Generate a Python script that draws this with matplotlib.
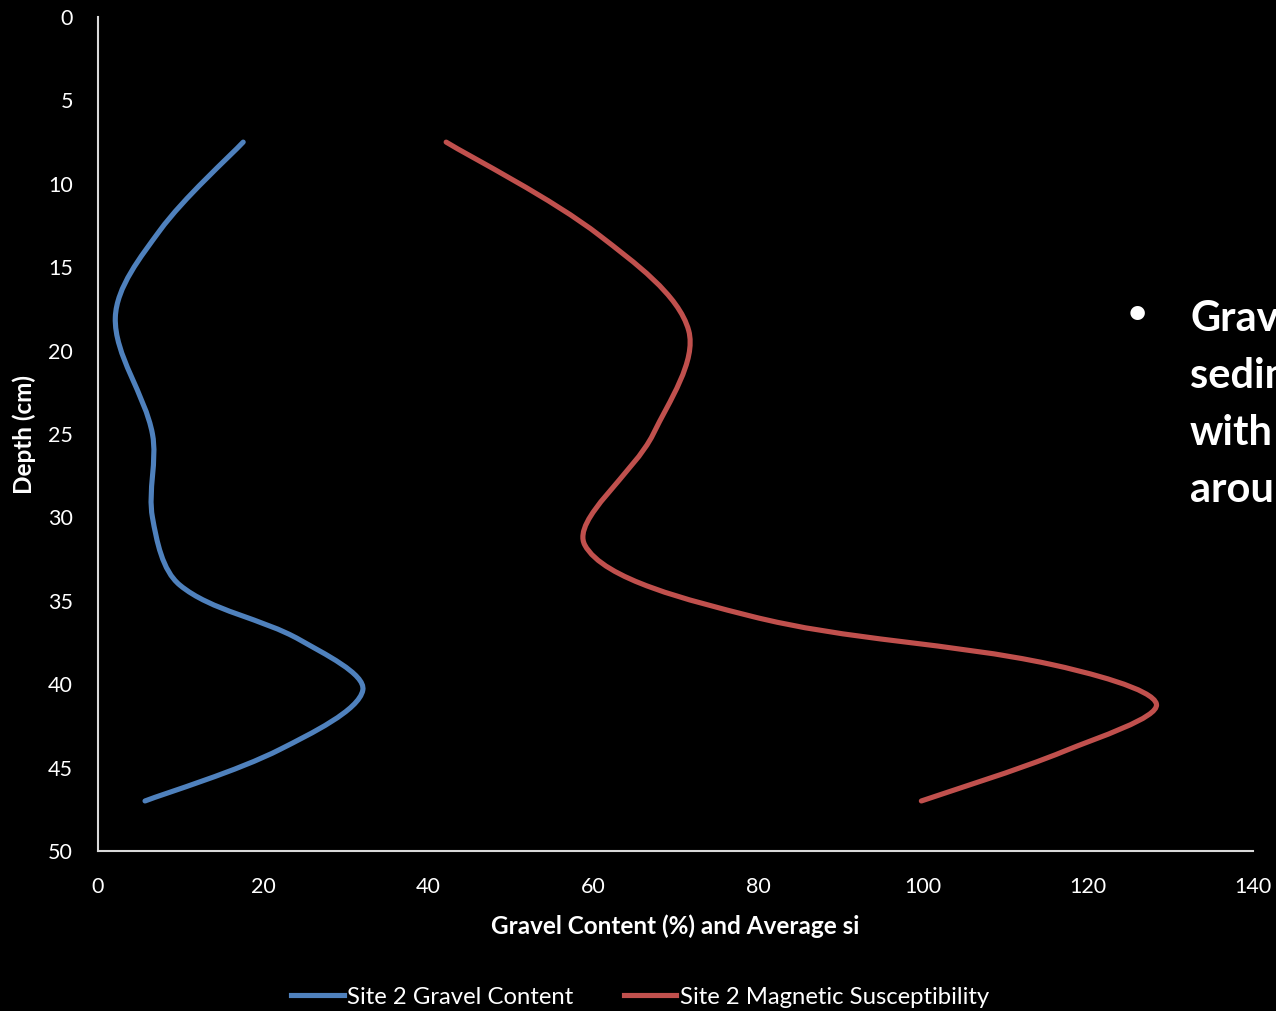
import numpy as np
import matplotlib
matplotlib.use("Agg")
import matplotlib.pyplot as plt
from matplotlib.path import Path
from matplotlib.patches import PathPatch
from matplotlib.lines import Line2D

plt.rcParams['font.family'] = ['Lato', 'DejaVu Sans']

# Site 2 gravel content (%) against depth (cm)
gravel_depth = [7.5, 12.8, 18.0, 25.0, 30.0, 34.05, 37.35, 40.35, 43.9, 47.0]
gravel = [17.6, 7.5, 2.1, 6.6, 6.6, 9.9, 24.5, 32.1, 22.1, 5.7]

# Site 2 average magnetic susceptibility (si) against depth (cm)
mag_depth = [7.5, 13.1, 18.8, 25.0, 31.65, 35.9, 38.8, 41.2, 44.0, 47.0]
mag_sus = [42.2, 60.8, 71.6, 67.3, 59.0, 79.0, 115.4, 128.3, 117.2, 99.8]

x_ticks = [0, 20, 40, 60, 80, 100, 120, 140]
y_ticks = [0, 5, 10, 15, 20, 25, 30, 35, 40, 45, 50]

legend_labels = ['Site 2 Gravel Content', 'Site 2 Magnetic Susceptibility']
side_text = ['Gravel', 'sediment', 'with', 'around']

BLUE = '#4F81BD'
RED = '#C0504D'
FG = '#FFFFFF'
AXIS = '#D9D9D9'
LW = 3.7


def smooth_path(ax, xs, ys):
    """Cubic Bezier path through the points; tangents are shared between
    neighbouring segments in proportion to their on-screen lengths."""
    pts = np.column_stack([xs, ys]).astype(float)
    scr = ax.transData.transform(pts)
    n = len(pts)
    seg = np.hypot(*np.diff(scr, axis=0).T)
    verts = [pts[0]]
    codes = [Path.MOVETO]
    for i in range(n - 1):
        p0, p1 = pts[i], pts[i + 1]
        if i == 0:
            c1 = p0 + (p1 - p0) / 6.0
        else:
            w = seg[i] / (seg[i - 1] + seg[i])
            c1 = p0 + (p1 - pts[i - 1]) * w / 3.0
        if i + 1 == n - 1:
            c2 = p1 - (p1 - p0) / 6.0
        else:
            w = seg[i] / (seg[i] + seg[i + 1])
            c2 = p1 - (pts[i + 2] - p0) * w / 3.0
        verts += [c1, c2, p1]
        codes += [Path.CURVE4] * 3
    return Path(verts, codes)


fig = plt.figure(figsize=(12.76, 10.11), dpi=100, facecolor='black')
ax = fig.add_axes([98 / 1276, 1 - 851 / 1011, (1253 - 98) / 1276, (851 - 17) / 1011])
ax.set_facecolor('black')
ax.set_xlim(0, 140)
ax.set_ylim(50, 0)

for xs, ys, color in ((gravel, gravel_depth, BLUE), (mag_sus, mag_depth, RED)):
    ax.add_patch(PathPatch(smooth_path(ax, xs, ys), facecolor='none', edgecolor=color,
                           lw=LW, capstyle='round', joinstyle='round'))

ax.set_xticks(x_ticks)
ax.set_yticks(y_ticks)
ax.tick_params(length=0, colors=FG, labelsize=15.5)
ax.tick_params(axis='x', pad=19)
ax.tick_params(axis='y', pad=18)
for side in ('top', 'right'):
    ax.spines[side].set_visible(False)
for side in ('left', 'bottom'):
    ax.spines[side].set_color(AXIS)
    ax.spines[side].set_linewidth(1.5)

ax.set_xlabel('Gravel Content (%) and Average si', color=FG, fontsize=17.5,
              fontweight='bold', va='center', ha='center')
ax.xaxis.set_label_coords(0.5, (851 - 926) / 834)
ax.set_ylabel('Depth (cm)', color=FG, fontsize=17.5, fontweight='bold',
              va='center', ha='center')
ax.yaxis.set_label_coords((24 - 98) / 1155, 0.5)

handles = [Line2D([], [], color=BLUE, lw=LW),
           Line2D([], [], color=RED, lw=LW)]
fig.legend(handles, legend_labels,
           loc='center', bbox_to_anchor=(640 / 1276, 1 - 997 / 1011), ncol=2,
           frameon=False, fontsize=17.2, labelcolor=FG, handlelength=2.2,
           handletextpad=0.15, columnspacing=2.1)

# Slide text running off the right edge
fig.text(1137 / 1276, 1 - 313 / 1011, '\u2022', color=FG, fontsize=24,
         fontweight='bold', ha='center', va='center')
for line, baseline in zip(side_text, [331, 388, 445, 502]):
    fig.text(1190 / 1276, 1 - baseline / 1011, line, color=FG, fontsize=30,
             fontweight='bold', ha='left', va='baseline')

fig.savefig('out.png', dpi=100, facecolor='black')
